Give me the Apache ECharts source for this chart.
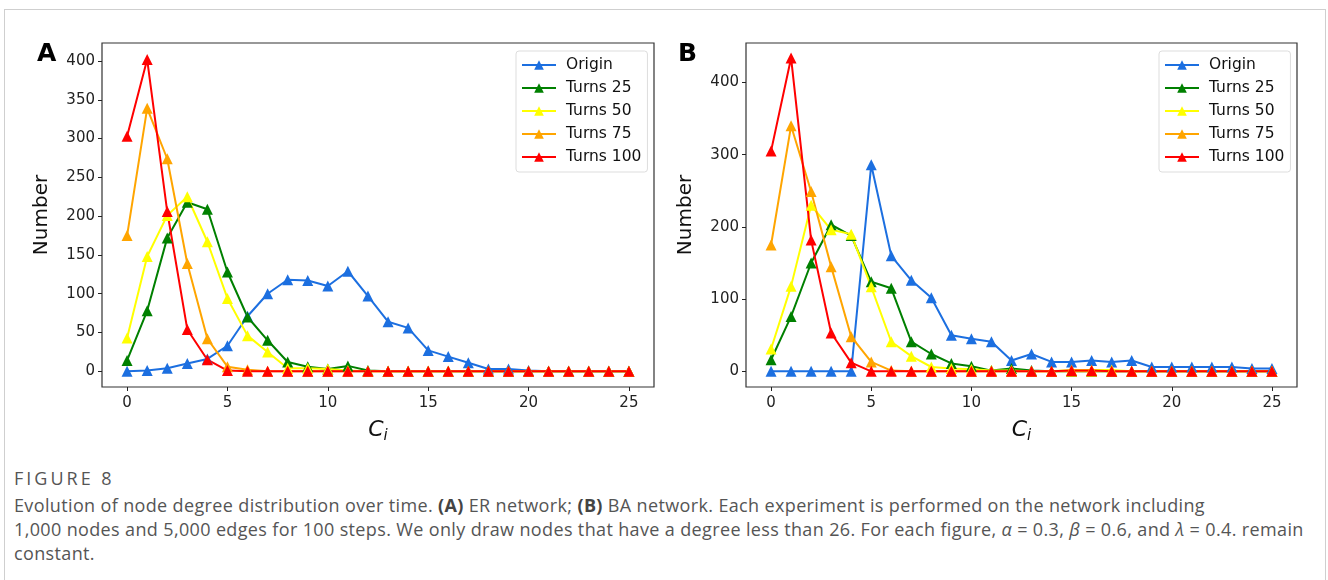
<!DOCTYPE html>
<html>
<head>
    <meta charset="utf-8">
    <title>Figure 8</title>
    <script src="https://cdn.jsdelivr.net/npm/echarts@6.0.0/dist/echarts.min.js"></script>
    <style>
        body { margin: 0; background: #fff; }
        .card {
            position: absolute; left: 4px; top: 9px; width: 1320px; height: 600px;
            border: 1px solid #cfcfcf; border-bottom: none;
        }
        #main { position: absolute; left: 0; top: 0; width: 1328px; height: 450px; }
        .fig_title {
            position: absolute; left: 14px; top: 468px; line-height: 20px;
            font-family: "Open Sans", sans-serif; font-size: 18px; color: #555; letter-spacing: 3px;
        }
        .fig_text {
            position: absolute; left: 14px; top: 493px;
            font-family: "Open Sans", sans-serif; font-size: 18px; line-height: 24px; color: #555;
            letter-spacing: 0.36px; white-space: nowrap;
        }
        .fig_text b { color: #444; }
    </style>
</head>
<body>
    <div class="card"></div>
    <div id="main"></div>
    <div class="fig_title">FIGURE 8</div>
    <div class="fig_text">
        Evolution of node degree distribution over time. <b>(A)</b> ER network; <b>(B)</b> BA network. Each experiment is performed on the network including<br>
        1,000 nodes and 5,000 edges for 100 steps. We only draw nodes that have a degree less than 26. For each figure, <i>α</i> = 0.3, <i>β</i> = 0.6, and <i>λ</i> = 0.4. remain<br>
        constant.
    </div>
<script type="text/javascript">
    // degree C_i
    var degrees = [0, 1, 2, 3, 4, 5, 6, 7, 8, 9, 10, 11, 12, 13, 14, 15, 16, 17, 18, 19, 20, 21, 22, 23, 24, 25];
    var seriesNames = ['Origin', 'Turns 25', 'Turns 50', 'Turns 75', 'Turns 100'];
    var colors = ['#1c6fe0', '#008000', '#ffff00', '#ffa500', '#ff0000'];

    // (A) ER network
    var erOrigin = [0, 1, 4, 10, 16, 33, 71, 100, 118, 117, 110, 129, 97, 64, 56, 27, 19, 11, 3, 3, 1, 0, 0, 0, 0, 0];
    var erTurns25 = [14, 78, 172, 218, 209, 128, 70, 40, 12, 6, 3, 7, 1, 0, 0, 0, 0, 0, 0, 0, 0, 0, 0, 0, 0, 0];
    var erTurns50 = [43, 148, 201, 225, 167, 94, 46, 25, 4, 4, 3, 1, 0, 0, 0, 0, 0, 0, 0, 0, 0, 0, 0, 0, 0, 0];
    var erTurns75 = [175, 339, 274, 139, 42, 6, 2, 0, 0, 0, 0, 0, 0, 0, 0, 0, 0, 0, 0, 0, 0, 0, 0, 0, 0, 0];
    var erTurns100 = [303, 402, 206, 54, 15, 1, 0, 0, 0, 0, 0, 0, 0, 0, 0, 0, 0, 0, 0, 0, 0, 0, 0, 0, 0, 0];

    // (B) BA network
    var baOrigin = [0, 0, 0, 0, 0, 286, 160, 126, 102, 50, 45, 41, 15, 24, 13, 13, 15, 13, 15, 6, 6, 6, 6, 6, 4, 4];
    var baTurns25 = [16, 76, 150, 203, 188, 124, 115, 41, 24, 11, 7, 1, 4, 1, 0, 0, 0, 0, 0, 0, 0, 0, 0, 0, 0, 0];
    var baTurns50 = [31, 118, 230, 196, 190, 117, 41, 21, 6, 4, 3, 1, 1, 0, 0, 2, 2, 2, 0, 0, 0, 0, 0, 0, 0, 0];
    var baTurns75 = [175, 340, 249, 145, 48, 13, 1, 0, 0, 0, 0, 0, 0, 0, 0, 0, 0, 0, 0, 0, 0, 0, 0, 0, 0, 0];
    var baTurns100 = [305, 434, 182, 53, 12, 0, 0, 0, 0, 0, 0, 0, 0, 0, 0, 1, 1, 0, 0, 0, 0, 0, 0, 0, 0, 0];

    var xTicks = [0, 5, 10, 15, 20, 25];
    var yTicksA = [0, 50, 100, 150, 200, 250, 300, 350, 400];
    var yTicksB = [0, 100, 200, 300, 400];

    var font = 'DejaVu Sans';

    function pairs(vals) {
        var out = [];
        for (var i = 0; i < degrees.length; i++) {
            out.push([degrees[i], vals[i]]);
        }
        return out;
    }

    function makeSeries(list, idx) {
        var s = [];
        for (var i = 0; i < list.length; i++) {
            s.push({
                name: seriesNames[i],
                type: 'line',
                xAxisIndex: idx,
                yAxisIndex: idx,
                data: pairs(list[i]),
                symbol: 'triangle',
                symbolSize: 11,
                clip: false,
                animation: false,
                color: colors[i],
                lineStyle: { width: 2, color: colors[i] },
                itemStyle: { color: colors[i] }
            });
        }
        return s;
    }

    function xAxis(idx) {
        return {
            type: 'value', gridIndex: idx, min: -1.25, max: 26.25,
            name: '{c|C}{i|i}', nameLocation: 'middle', nameGap: 29,
            nameTextStyle: {
                rich: {
                    c: { fontSize: 22, fontStyle: 'italic', fontFamily: font, color: '#111', lineHeight: 28 },
                    i: { fontSize: 15, fontStyle: 'italic', fontFamily: font, color: '#111', lineHeight: 14, verticalAlign: 'bottom' }
                }
            },
            axisLine: { show: false, onZero: false },
            splitLine: { show: false },
            axisTick: { show: true, inside: false, length: 4, lineStyle: { color: '#222' }, customValues: xTicks },
            axisLabel: { fontFamily: font, fontSize: 15, color: '#222', margin: 9, customValues: xTicks }
        };
    }

    function yAxis(idx, min, max, ticks) {
        return {
            type: 'value', gridIndex: idx, min: min, max: max,
            name: 'Number', nameLocation: 'middle', nameGap: 50, nameRotate: 90,
            nameTextStyle: { fontFamily: font, fontSize: 20, color: '#111' },
            axisLine: { show: false, onZero: false },
            splitLine: { show: false },
            axisTick: { show: true, inside: false, length: 4, lineStyle: { color: '#222' }, customValues: ticks },
            axisLabel: { fontFamily: font, fontSize: 15, color: '#222', margin: 7, customValues: ticks }
        };
    }

    function legend(left) {
        return {
            orient: 'vertical', left: left, top: 51,
            data: seriesNames,
            padding: [5, 6, 6, 5],
            itemWidth: 34, itemHeight: 12, itemGap: 5,
            borderColor: '#dddddd', borderWidth: 1, borderRadius: 3,
            backgroundColor: 'rgba(255,255,255,0.8)',
            textStyle: { fontFamily: font, fontSize: 15.5, color: '#111', lineHeight: 18, padding: [0, 0, 0, 5] },
            selectedMode: false
        };
    }

    var myChart = echarts.init(document.getElementById('main'));
    var option = {
        animation: false,
        grid: [
            { left: 102, top: 43, width: 552, height: 344, show: true, borderColor: '#333', borderWidth: 1.2, backgroundColor: '#fff' },
            { left: 746, top: 43, width: 551, height: 344, show: true, borderColor: '#333', borderWidth: 1.2, backgroundColor: '#fff' }
        ],
        xAxis: [xAxis(0), xAxis(1)],
        yAxis: [yAxis(0, -20.2, 423.2, yTicksA), yAxis(1, -21.7, 454.7, yTicksB)],
        legend: [legend(516), legend(1159)],
        graphic: [
            { type: 'text', left: 37, top: 42, style: { text: 'A', fontFamily: font, fontSize: 25, fontWeight: 'bold', fill: '#000' } },
            { type: 'text', left: 678, top: 42, style: { text: 'B', fontFamily: font, fontSize: 25, fontWeight: 'bold', fill: '#000' } }
        ],
        series: makeSeries([erOrigin, erTurns25, erTurns50, erTurns75, erTurns100], 0)
            .concat(makeSeries([baOrigin, baTurns25, baTurns50, baTurns75, baTurns100], 1))
    };
    myChart.setOption(option);
</script>
</body>
</html>
